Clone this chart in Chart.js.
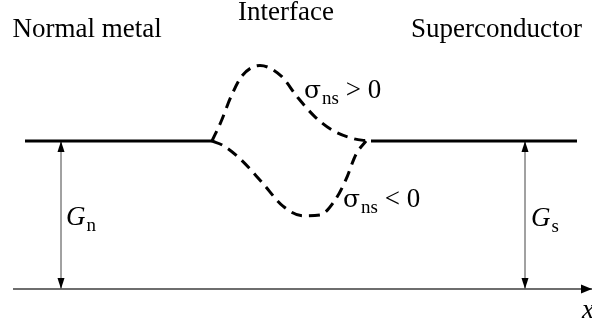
<!DOCTYPE html>
<html>
<head>
<meta charset="utf-8">
<script src="https://cdn.jsdelivr.net/npm/chart.js@4.4.1/dist/chart.umd.min.js"></script>
<style>
  html, body { margin: 0; padding: 0; background: #fff; }
  .wrap { width: 592px; height: 323px; position: relative; }
</style>
</head>
<body>
<div class="wrap"><canvas id="diagram"></canvas></div>
<script>
// position across the junction (x) and conductance G (bulk value = 1)
const xNormal = [25, 212];
const gNormal = [1, 1];
const xSuper = [371, 577];
const gSuper = [1, 1];

// sigma_ns > 0 : bump above
const xPos = [212, 221, 231, 242, 260, 281, 297, 314, 333, 354, 368];
const gPos = [1.0, 1.13, 1.30, 1.44, 1.51, 1.44, 1.30, 1.17, 1.07, 1.015, 1.0];

// sigma_ns < 0 : dip below
const xNeg = [212, 223, 240, 262, 283, 303, 320, 335, 346, 356, 366];
const gNeg = [1.0, 0.97, 0.88, 0.72, 0.56, 0.495, 0.5, 0.6, 0.74, 0.91, 1.0];

// x axis and the two G arrows
const xAxisLine = [13, 592];
const gAxisLine = [0, 0];
const xGn = [61, 61];
const gGn = [0, 1];
const xGs = [525, 525];
const gGs = [0, 1];

// texts: [main, subscript, rest]
const labelText = [
  ["Normal metal", "", ""],
  ["Interface", "", ""],
  ["Superconductor", "", ""],
  ["\u03c3", "ns", " > 0"],
  ["\u03c3", "ns", " < 0"],
  ["G", "n", ""],
  ["G", "s", ""],
  ["x", "", ""],
];
const labelX = [12.5, 238, 411, 304, 343, 66, 531, 582];
const labelG = [1.703, 1.818, 1.70, 1.29, 0.554, 0.432, 0.426, -0.196];
const labelItalic = [false, false, false, false, false, true, true, true];

function pts(xs, ys) {
  return xs.map((x, i) => ({ x: x, y: ys[i] }));
}

const SERIF = '"Liberation Serif", "Times New Roman", serif';

// arrowheads at the ends of some lines
const arrowPlugin = {
  id: "arrowHeads",
  afterDatasetsDraw(chart) {
    const ctx = chart.ctx;
    chart.data.datasets.forEach((ds, i) => {
      if (!ds.arrow) return;
      const p = chart.getDatasetMeta(i).data;
      const ends = ds.arrow === "both" ? [[p.length - 1, p.length - 2], [0, 1]] : [[p.length - 1, p.length - 2]];
      ends.forEach(([a, b]) => {
        const tip = p[a], prev = p[b];
        const ang = Math.atan2(tip.y - prev.y, tip.x - prev.x);
        ctx.save();
        ctx.fillStyle = ds.arrowColor;
        ctx.translate(tip.x, tip.y);
        ctx.rotate(ang);
        ctx.beginPath();
        ctx.moveTo(0, 0);
        ctx.lineTo(-ds.arrowLen, -ds.arrowHalf);
        ctx.lineTo(-ds.arrowLen, ds.arrowHalf);
        ctx.closePath();
        ctx.fill();
        ctx.restore();
      });
    });
  },
};

// labels with subscripts
const textPlugin = {
  id: "diagramText",
  afterDraw(chart) {
    const ctx = chart.ctx;
    const sx = chart.scales.x, sy = chart.scales.y;
    ctx.save();
    ctx.fillStyle = "#000";
    ctx.textBaseline = "alphabetic";
    labelText.forEach((t, i) => {
      let px = sx.getPixelForValue(labelX[i]);
      const py = sy.getPixelForValue(labelG[i]);
      if (t[0] === "\u03c3") {
        ctx.font = '25px "DejaVu Serif", serif';
      } else {
        ctx.font = (labelItalic[i] ? "italic " : "") + "27px " + SERIF;
      }
      ctx.fillText(t[0], px, py);
      px += ctx.measureText(t[0]).width;
      if (t[1]) {
        ctx.font = "19px " + SERIF;
        ctx.fillText(t[1], px + 1, py + 6);
        px += ctx.measureText(t[1]).width + 1;
      }
      if (t[2]) {
        ctx.font = "27px " + SERIF;
        ctx.fillText(t[2], px, py);
      }
    });
    ctx.restore();
  },
};

const solid = { borderColor: "#000", borderWidth: 3, pointRadius: 0, showLine: true, borderCapStyle: "butt" };
const dashed = { borderColor: "#000", borderWidth: 3, pointRadius: 0, showLine: true, borderDash: [11, 7],
  cubicInterpolationMode: "monotone", borderCapStyle: "butt" };

new Chart(document.getElementById("diagram"), {
  type: "scatter",
  data: {
    datasets: [
      Object.assign({ data: pts(xNormal, gNormal) }, solid),
      Object.assign({ data: pts(xSuper, gSuper) }, solid),
      Object.assign({ data: pts(xPos, gPos) }, dashed),
      Object.assign({ data: pts(xNeg, gNeg) }, dashed),
      { data: pts(xAxisLine, gAxisLine), borderColor: "#6e6e6e", borderWidth: 2, pointRadius: 0, showLine: true,
        arrow: "end", arrowLen: 11, arrowHalf: 4.5, arrowColor: "#000" },
      { data: pts(xGn, gGn), borderColor: "#444", borderWidth: 1, pointRadius: 0, showLine: true,
        arrow: "both", arrowLen: 11, arrowHalf: 3.5, arrowColor: "#000" },
      { data: pts(xGs, gGs), borderColor: "#444", borderWidth: 1, pointRadius: 0, showLine: true,
        arrow: "both", arrowLen: 11, arrowHalf: 3.5, arrowColor: "#000" },
    ],
  },
  options: {
    responsive: true,
    maintainAspectRatio: false,
    animation: false,
    layout: { padding: 0 },
    plugins: { legend: { display: false }, tooltip: { enabled: false } },
    scales: {
      x: { type: "linear", display: false, min: 0, max: 592 },
      y: { type: "linear", display: false, min: -34 / 148, max: 289 / 148 },
    },
  },
  plugins: [arrowPlugin, textPlugin],
});
</script>
</body>
</html>
